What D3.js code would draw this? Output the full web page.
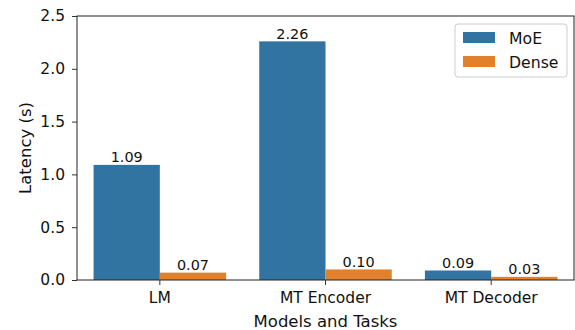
<!DOCTYPE html>
<html>
<head>
<meta charset="utf-8">
<script src="https://cdn.jsdelivr.net/npm/d3@7"></script>
<style>
  body { margin: 0; background: #fff; }
  svg { font-family: "DejaVu Sans", sans-serif; }
</style>
</head>
<body>
<svg id="chart" width="575" height="330"></svg>
<script>
// --- data ---
var categories = ["LM", "MT Encoder", "MT Decoder"];
var seriesNames = ["MoE", "Dense"];
var moeValues = [1.09, 2.26, 0.09];
var denseValues = [0.07, 0.10, 0.03];
var yTicks = [0.0, 0.5, 1.0, 1.5, 2.0, 2.5];

var colors = { "MoE": "#3274a1", "Dense": "#e1812c" };

// --- layout ---
var W = 575, H = 330;
var m = { left: 77, right: 1, top: 16, bottom: 50 };
var svg = d3.select("#chart");

var x = d3.scaleBand()
    .domain(categories)
    .range([m.left, W - m.right])
    .paddingInner(0.2)
    .paddingOuter(0.1);

var xSub = d3.scaleBand()
    .domain(seriesNames)
    .range([0, x.bandwidth()]);

var y = d3.scaleLinear()
    .domain([0, 2.5])
    .range([H - m.bottom, m.top]);

var rows = categories.map(function (c, i) {
    return { cat: c, values: [
        { name: "MoE", v: moeValues[i] },
        { name: "Dense", v: denseValues[i] }
    ] };
});

// bars
var groups = svg.append("g").selectAll("g")
    .data(rows).enter().append("g")
    .attr("transform", function (d) { return "translate(" + x(d.cat) + ",0)"; });

groups.selectAll("rect")
    .data(function (d) { return d.values; })
    .enter().append("rect")
    .attr("x", function (d) { return xSub(d.name); })
    .attr("width", xSub.bandwidth())
    .attr("y", function (d) { return y(d.v); })
    .attr("height", function (d) { return y(0) - y(d.v); })
    .attr("fill", function (d) { return colors[d.name]; });

groups.selectAll("text")
    .data(function (d) { return d.values; })
    .enter().append("text")
    .attr("x", function (d) { return xSub(d.name) + xSub.bandwidth() / 2; })
    .attr("y", function (d) { return y(d.v) - 2.5; })
    .attr("text-anchor", "middle")
    .attr("font-size", 14.4)
    .attr("fill", "#111")
    .text(function (d) { return d.v.toFixed(2); });

// axes
var xAxis = svg.append("g")
    .attr("transform", "translate(0," + (H - m.bottom) + ")")
    .call(d3.axisBottom(x).tickSizeOuter(0).tickSize(5).tickPadding(7));

var yAxis = svg.append("g")
    .attr("transform", "translate(" + m.left + ",0)")
    .call(d3.axisLeft(y).tickValues(yTicks).tickFormat(d3.format(".1f")).tickSizeOuter(0).tickSize(5).tickPadding(7));

[xAxis, yAxis].forEach(function (a) {
    a.selectAll("text").attr("font-size", 15.5).attr("fill", "#111").attr("font-family", "DejaVu Sans, sans-serif");
    a.selectAll("line").attr("stroke", "#333").attr("stroke-width", 1);
    a.select(".domain").remove();
});

// frame
svg.append("rect")
    .attr("x", m.left).attr("y", m.top)
    .attr("width", W - m.right - m.left)
    .attr("height", H - m.bottom - m.top)
    .attr("fill", "none")
    .attr("stroke", "#222")
    .attr("stroke-width", 1);

// axis labels
svg.append("text")
    .attr("x", (m.left + W - m.right) / 2)
    .attr("y", 327)
    .attr("text-anchor", "middle")
    .attr("font-size", 16.5)
    .attr("fill", "#111")
    .text("Models and Tasks");

svg.append("text")
    .attr("transform", "translate(31," + ((m.top + H - m.bottom) / 2) + ") rotate(-90)")
    .attr("text-anchor", "middle")
    .attr("font-size", 16.5)
    .attr("fill", "#111")
    .text("Latency (s)");

// legend
var lg = svg.append("g").attr("transform", "translate(455,24)");
lg.append("rect")
    .attr("width", 112).attr("height", 53).attr("rx", 3)
    .attr("fill", "#fff").attr("fill-opacity", 0.8)
    .attr("stroke", "#ccc");
seriesNames.forEach(function (n, i) {
    lg.append("rect")
        .attr("x", 8).attr("y", 8 + i * 24)
        .attr("width", 32).attr("height", 11)
        .attr("fill", colors[n]);
    lg.append("text")
        .attr("x", 54).attr("y", 19.5 + i * 24)
        .attr("font-size", 15.7)
        .attr("fill", "#111")
        .text(n);
});
</script>
</body>
</html>
